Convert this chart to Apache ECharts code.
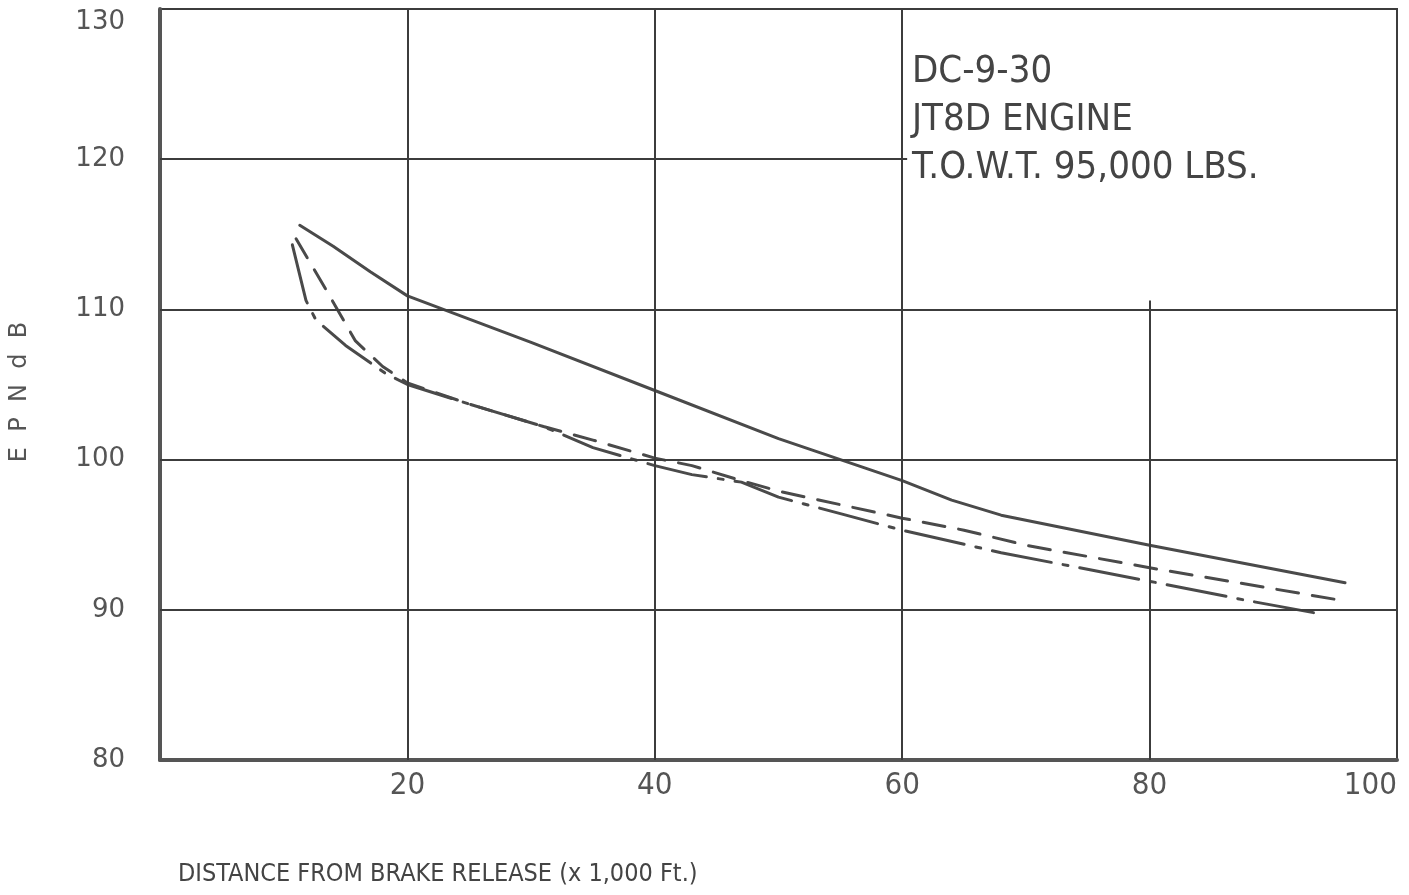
<!DOCTYPE html>
<html lang="en">
<head>
    <meta charset="UTF-8">
    <title>epndb_distance</title>
    <script src="https://cdn.jsdelivr.net/npm/echarts@6/dist/echarts.min.js"></script>
    <style>
        html, body { margin: 0; padding: 0; background: #fff; }
    </style>
</head>

<body>
    <div id="mainChart" style="width: 1409px; height: 895px;"></div>
    <script>
        // distance (x 1,000 ft) vs EPNdB
        let solidLine = [
            [11.3, 115.6], [14, 114.2], [17, 112.5], [20, 110.9], [30, 107.8], [40, 104.6],
            [50, 101.4], [55, 100.0], [60, 98.6], [64, 97.3], [68, 96.3], [80, 94.3], [95.8, 91.8]
        ]
        let dashedLine = [
            [11, 114.7], [13.5, 111.2], [15.8, 107.9], [18, 106.2], [20, 105.1], [25, 103.7],
            [31, 102.2], [35, 101.3], [40, 100.1], [43, 99.6], [47, 98.6], [50, 97.9],
            [55, 97.0], [60, 96.1], [65, 95.3], [70, 94.3], [80, 92.8], [90, 91.4], [95.7, 90.6]
        ]
        let dashDotLine = [
            [10.7, 114.3], [11.8, 110.6], [12.6, 109.3], [15, 107.6], [18.3, 105.7], [20, 105.0],
            [25, 103.7], [31, 102.2], [35, 100.8], [40, 99.6], [43, 99.0], [47, 98.5], [50, 97.5],
            [55, 96.4], [60, 95.3], [68, 93.8], [80, 91.9], [88, 90.6], [94, 89.7]
        ]
        let xTicks = [20, 40, 60, 80, 100]
        let yTicks = [80, 90, 100, 110, 120, 130]
        let noteLines = ['DC-9-30', 'JT8D ENGINE', 'T.O.W.T. 95,000 LBS.']
        let xTitle = 'DISTANCE FROM BRAKE RELEASE (x 1,000 Ft.)'
        let yTitle = 'E  P  N  d  B'

        let ink = '#3c3c3c'
        let narrow = '"Liberation Sans Narrow", "DejaVu Sans Condensed", sans-serif'

        // hand drawn grid: 120 line stops at 60, the 80 line starts at 110
        let gridSegs = [
            [[20, 80], [20, 130]],
            [[40, 80], [40, 130]],
            [[60, 80], [60, 130]],
            [[80, 80], [80, 110.6]],
            [[0, 90], [100, 90]],
            [[0, 100], [100, 100]],
            [[0, 110], [100, 110]],
            [[0, 120], [60.4, 120]]
        ]

        function lineSeries(name, data, type) {
            return {
                type: 'line',
                name: name,
                data: data,
                showSymbol: false,
                silent: true,
                z: 3,
                lineStyle: { color: '#4a4a4a', width: 3, type: type, cap: 'round' }
            }
        }

        let chartsData = {
            animation: false,
            grid: {
                left: 160, right: 12, top: 9, bottom: 135,
                outerBoundsMode: 'none',
                containLabel: false,
                show: true, borderColor: ink, borderWidth: 2
            },
            xAxis: {
                type: 'value',
                min: 0, max: 100, interval: 20,
                axisLine: { show: true, onZero: false, lineStyle: { color: '#555', width: 4 } },
                axisTick: { show: false },
                splitLine: { show: false },
                axisLabel: {
                    margin: 10,
                    color: '#555',
                    fontSize: 31,
                    fontFamily: narrow,
                    alignMaxLabel: 'right',
                    formatter: function (v) { return xTicks.indexOf(v) >= 0 ? String(v) : '' }
                }
            },
            yAxis: {
                type: 'value',
                min: yTicks[0], max: yTicks[yTicks.length - 1], interval: 10,
                axisLine: { show: true, onZero: false, lineStyle: { color: '#555', width: 4 } },
                axisTick: { show: false },
                splitLine: { show: false },
                axisLabel: {
                    margin: 35,
                    color: '#555',
                    fontSize: 26,
                    fontFamily: '"DejaVu Sans", sans-serif',
                    verticalAlignMaxLabel: 'top'
                }
            },
            series: [
                {
                    type: 'line',
                    name: 'grid',
                    data: [],
                    silent: true,
                    z: 1,
                    markLine: {
                        silent: true,
                        symbol: 'none',
                        animation: false,
                        label: { show: false },
                        lineStyle: { color: ink, width: 2, type: 'solid' },
                        data: gridSegs.map(function (s) {
                            return [{ coord: s[0] }, { coord: s[1] }]
                        })
                    }
                },
                lineSeries('solid', solidLine, 'solid'),
                lineSeries('dashed', dashedLine, [22, 14]),
                lineSeries('dashdot', dashDotLine, [60, 12, 5, 12])
            ],
            graphic: [
                {
                    type: 'text',
                    left: 912, top: 48,
                    style: {
                        text: noteLines.join('\n'),
                        fill: '#444',
                        font: '38px ' + narrow,
                        lineHeight: 48
                    }
                },
                {
                    type: 'text',
                    left: 178, top: 862,
                    style: {
                        text: xTitle,
                        fill: '#444',
                        font: '25px ' + narrow
                    }
                },
                {
                    type: 'text',
                    x: 20, y: 392,
                    rotation: Math.PI / 2,
                    style: {
                        text: yTitle,
                        fill: '#555',
                        font: '24px "DejaVu Sans", sans-serif',
                        align: 'center',
                        verticalAlign: 'middle'
                    }
                }
            ]
        }

        let charts = echarts.init(document.querySelector('#mainChart'))
        charts.setOption(chartsData, true)
    </script>
</body>

</html>
